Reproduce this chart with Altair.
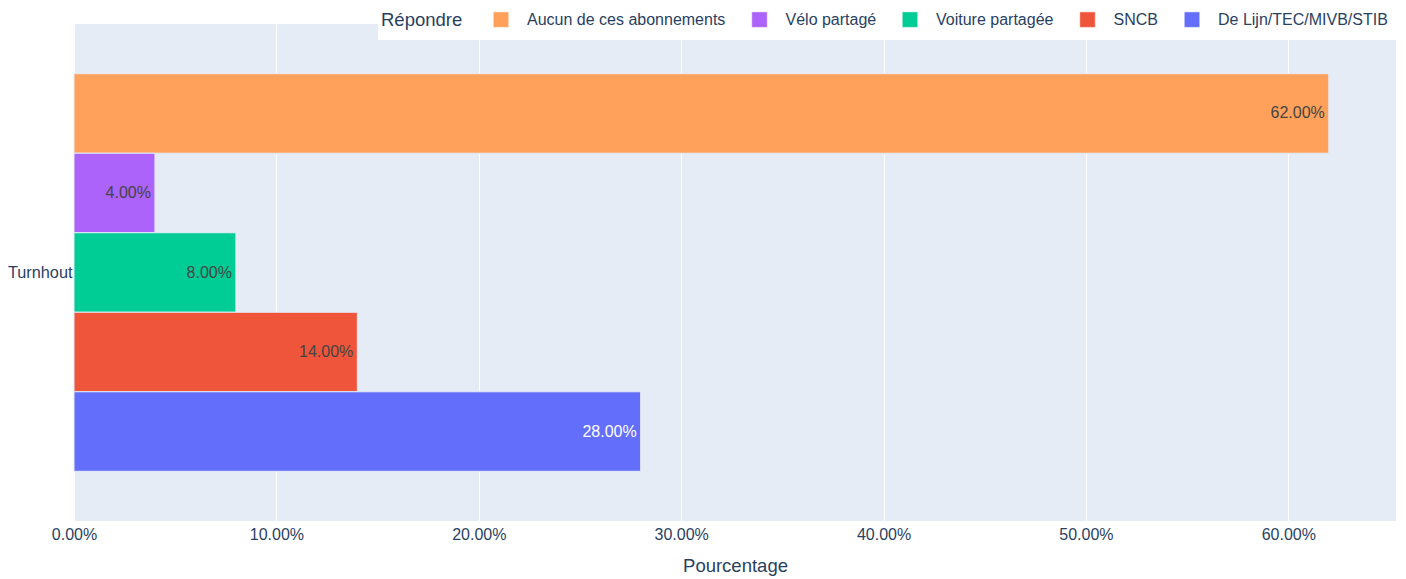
import altair as alt
import pandas as pd

city = ["Turnhout"] * 5
series = ["Aucun de ces abonnements", "Vélo partagé", "Voiture partagée", "SNCB", "De Lijn/TEC/MIVB/STIB"]
values = [0.62, 0.04, 0.08, 0.14, 0.28]
colors = ["#FFA15A", "#AB63FA", "#00CC96", "#EF553B", "#636EFA"]
text_colors = ["#444444", "#444444", "#444444", "#444444", "#FFFFFF"]
x_ticks = [0, 0.1, 0.2, 0.3, 0.4, 0.5, 0.6]

df = pd.DataFrame({"Ville": city, "Répondre": series, "Pourcentage": values, "tc": text_colors})

FONT = "Liberation Sans"
x = alt.X("Pourcentage:Q",
          scale=alt.Scale(domain=[0, 0.6532], nice=False, zero=True),
          axis=alt.Axis(format=".2%", values=x_ticks, title="Pourcentage",
                        grid=True, gridColor="white", gridWidth=1, domain=False, ticks=False,
                        labelFlush=False,
                        labelPadding=5, labelFontSize=16, labelColor="#2a3f5f",
                        titleFontSize=18.5, titleFontWeight="normal", titleColor="#2a3f5f",
                        titlePadding=14, labelFont=FONT, titleFont=FONT))
y = alt.Y("Ville:N", title=None,
          scale=alt.Scale(paddingInner=0.2, paddingOuter=0.1),
          axis=alt.Axis(ticks=False, domain=False, labelPadding=2, labelFontSize=16.3,
                        labelColor="#2a3f5f", labelFont=FONT, grid=False))
yoff = alt.YOffset("Répondre:N", sort=series, scale=alt.Scale(paddingInner=0, paddingOuter=0))

# white backdrop behind the legend (legend box overlapping the top of the plot area)
backdrop = alt.Chart(df).mark_rect(color="white").encode(
    x=alt.value(304), x2=alt.value(1322), y=alt.value(0), y2=alt.value(16)
)

bars = alt.Chart(df).mark_bar(stroke="#E5ECF6", strokeWidth=1).encode(
    x=x, y=y, yOffset=yoff,
    color=alt.Color("Répondre:N", sort=series,
                    scale=alt.Scale(domain=series, range=colors),
                    legend=alt.Legend(orient="none", legendX=304, legendY=-15.5,
                                      direction="horizontal", titleOrient="left",
                                      title="Répondre", titleFontSize=18.5, titleFontWeight="normal",
                                      titleColor="#2a3f5f", titleFont=FONT, titlePadding=30,
                                      labelFontSize=16, labelColor="#2a3f5f", labelFont=FONT,
                                      labelLimit=400,
                                      symbolType="square", symbolSize=240, symbolStrokeWidth=0.5,
                                      symbolStrokeColor="#ffffff", symbolOpacity=1,
                                      labelOffset=18, columnPadding=24.5, padding=3,
                                      fillColor="white", titleBaseline="middle")),
)

labels = alt.Chart(df).mark_text(align="right", baseline="middle", dx=-4, fontSize=16, font=FONT).encode(
    x=x, y=y, yOffset=yoff,
    text=alt.Text("Pourcentage:Q", format=".2%"),
    color=alt.Color("tc:N", scale=None),
)

chart = (backdrop + bars + labels).properties(
    width=1322, height=497,
    autosize=alt.AutoSizeParams(type="none"),
    padding={"left": 66, "top": 16, "right": 2, "bottom": 58},
).configure_view(fill="#E5ECF6", stroke=None)

chart.save("out.html", embed_options={"renderer": "svg", "actions": False})
